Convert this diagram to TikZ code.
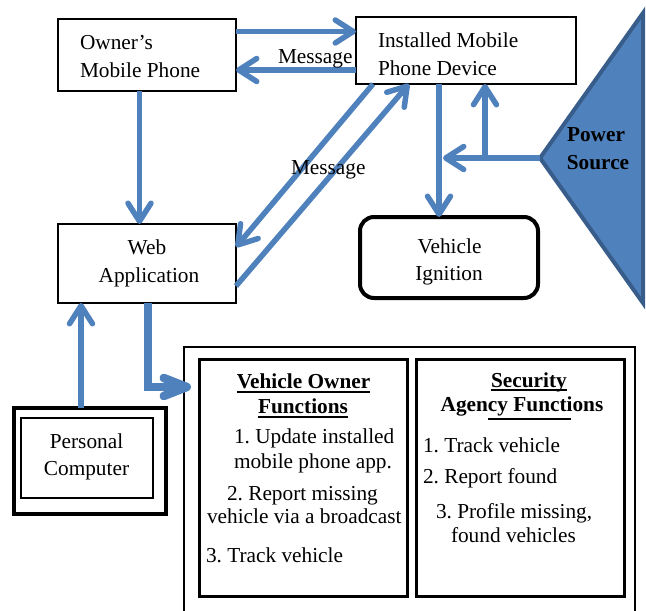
\documentclass[tikz,border=0pt]{standalone}
\usepackage{fontspec}
\setmainfont{Liberation Serif}
\usetikzlibrary{arrows.meta,calc}
\definecolor{abl}{HTML}{4F81BD}
\definecolor{adk}{HTML}{385D8A}
\frenchspacing
\begin{document}
\begin{tikzpicture}[x=1pt,y=-1pt,
  box/.style={draw=black, line width=2.5pt, inner sep=0pt, outer sep=0pt},
  arr/.style={draw=abl, line width=5.5pt, -{Straight Barb[length=18pt,width=23pt,line cap=round,line join=round]}},
  arrw/.style={draw=abl, line width=8.5pt, -{Straight Barb[length=23pt,width=18pt,line cap=round,line join=round]}},
  txt/.style={inner sep=0pt, outer sep=0pt, font=\fontsize{21.3}{27}\selectfont},
  btxt/.style={inner sep=0pt, outer sep=0pt, font=\fontsize{21.3}{27}\selectfont\bfseries},
  uline/.style={line width=1.5pt}]
\useasboundingbox (0,0) rectangle (646,611);
\clip (0,0) rectangle (646,611);

% boxes
\node[box, minimum width=178pt, minimum height=72pt] (owner) at (147,55) {};
\node[box, minimum width=220pt, minimum height=67pt] (inst) at (466,50.5) {};
\node[box, minimum width=178pt, minimum height=79pt] (web) at (147,263.5) {};
\node[box, line width=4pt, rounded corners=14pt, minimum width=178pt, minimum height=81pt] (ign) at (449,257.5) {};
\node[box, line width=3.3pt, minimum width=152pt, minimum height=106pt] (pc) at (90,461) {};
\node[box, line width=2pt, minimum width=132.6pt, minimum height=80pt] (pcin) at (87,458.3) {};
\node[box, line width=2.7pt, minimum width=451pt, minimum height=303pt] (outer) at (409.5,498.5) {};
\node[box, line width=3pt, minimum width=208pt, minimum height=237pt] (vo) at (303,477.5) {};
\node[box, line width=3pt, minimum width=208pt, minimum height=237pt] (sa) at (520,477.5) {};

% power source
\draw[fill=abl, draw=adk, line width=4pt] (540,158) -- (643,13) -- (643,303) -- cycle;
\coordinate (pv) at (540,158);
\coordinate (pj) at (443,158);
\coordinate (pb) at (485,158);

% connectors
\draw[arr] ($(owner.north east)+(0,12.5)$) -- ($(inst.north west)+(0,14.5)$);
\draw[arr] ($(inst.north west)+(0,53)$) -- ($(owner.north east)+(0,51)$);
\draw[arr] ($(owner.south)+(-7.5,0)$) -- ($(web.north)+(-7.5,0)$);
\draw[arr] ($(inst.south west)+(17,0)$) -- ($(web.north east)+(0,23)$);
\draw[arr] ($(web.south east)+(0,-17)$) -- ($(inst.south west)+(53,0)$);
\draw[arr] ($(inst.south west)+(83,0)$) -- ($(ign.north)+(-10,0)$);
\draw[arr] (pv) -- (pj);
\draw[arr] (pb) -- ($(inst.south west)+(129,0)$);
\draw[arrw] ($(web.south)+(1,0)$) |- ($(outer.north west)+(7,40)$);
\draw[arr] ($(pc.north)+(-9,0)$) -- ($(web.south west)+(23,0)$);

% texts
\node[txt, anchor=base west] (ow1) at (80,49) {Owner’s};
\node[txt, anchor=base west] (ow2) at (80,77) {Mobile Phone};
\node[txt, anchor=base west] (in1) at (378,47) {Installed Mobile};
\node[txt, anchor=base west] (in2) at (378,75) {Phone Device};
\node[txt, anchor=base] (wb1) at (147,254) {Web};
\node[txt, anchor=base] (wb2) at (149,282) {Application};
\node[txt, anchor=base] (ig1) at (449.5,253) {Vehicle};
\node[txt, anchor=base] (ig2) at (449,280) {Ignition};
\node[btxt, anchor=base] (pw1) at (596,141) {Power};
\node[btxt, anchor=base] (pw2) at (598,169) {Source};
\node[txt, anchor=base west] (m1) at (278,63) {Message};
\node[txt, anchor=base west] (m2) at (291,174) {Message};
\node[txt, anchor=base] (pc1) at (86.5,448) {Personal};
\node[txt, anchor=base] (pc2) at (86.5,475) {Computer};

\node[btxt, anchor=base] (vh1) at (303.5,388) {Vehicle Owner};
\node[btxt, anchor=base] (vh2) at (303,413) {Functions};
\draw[uline] ($(vh1.base west)+(0,4)$) -- ($(vh1.base east)+(0,4)$);
\draw[uline] ($(vh2.base west)+(0,4)$) -- ($(vh2.base east)+(0,4)$);
\node[txt, anchor=base west] (v1) at (234,443) {1. Update installed};
\node[txt, anchor=base west] (v2) at (234,468) {mobile phone app.};
\node[txt, anchor=base west] (v3) at (227,500) {2. Report missing};
\node[txt, anchor=base west] (v4) at (207,523) {vehicle via a broadcast};
\node[txt, anchor=base west] (v5) at (206,562) {3. Track vehicle};

\node[btxt, anchor=base] (sh1) at (529,387) {Security};
\node[btxt, anchor=base] (sh2) at (522,411) {Agency Functions};
\draw[uline] ($(sh1.base west)+(0,3)$) -- ($(sh1.base east)+(0,3)$);
\draw[uline] ($(sh2.base west)+(47,8)$) -- ($(sh2.base east)+(-32,8)$);
\node[txt, anchor=base west] (s1) at (423,452) {1. Track vehicle};
\node[txt, anchor=base west] (s2) at (423,483) {2. Report found};
\node[txt, anchor=base west] (s3) at (436,518) {3. Profile missing,};
\node[txt, anchor=base west] (s4) at (451,542) {found vehicles};
\end{tikzpicture}
\end{document}
